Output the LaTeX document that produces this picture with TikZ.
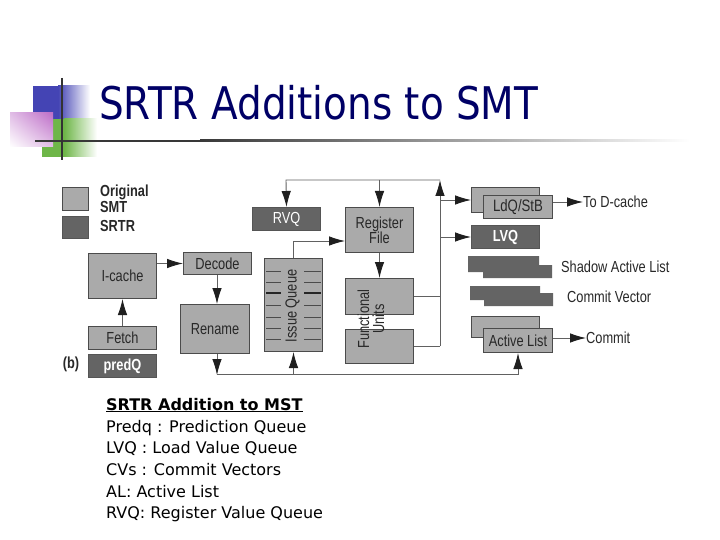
\documentclass[tikz,border=0pt]{standalone}
\usepackage{fontspec}
\setmainfont{DejaVu Sans}
\newfontfamily\titlefont[FakeStretch=0.865]{DejaVu Sans}
\newfontfamily\dfont[FakeStretch=0.8]{Liberation Sans}
\usetikzlibrary{arrows.meta,shadings}
\definecolor{lightbox}{RGB}{170,170,170}
\definecolor{darkbox}{RGB}{100,100,100}
\definecolor{edgec}{RGB}{75,75,75}
\definecolor{txtc}{RGB}{40,40,40}
\definecolor{navy}{RGB}{0,0,102}
\definecolor{blueq}{RGB}{68,68,180}
\definecolor{greenq}{RGB}{110,182,72}
\definecolor{pinkq}{RGB}{190,110,200}
\definecolor{pinkl}{RGB}{225,190,230}
\begin{document}
\begin{tikzpicture}[x=1pt,y=-1pt,
  dfs/.style={font=\dfont\fontsize{16}{16}\selectfont},
  dfsb/.style={font=\dfont\bfseries\fontsize{16}{16}\selectfont},
  dtext/.style={inner sep=0pt, text=txtc, dfs},
  lbox/.style={draw=edgec, fill=lightbox, line width=1pt, inner sep=0pt, anchor=north west,
    text=txtc, dfs},
  dbox/.style={draw=darkbox!85!black, fill=darkbox, line width=1pt, inner sep=0pt, anchor=north west,
    text=white, dfs},
  arr/.style={draw=black!62, line width=0.9pt, -{Latex[length=16pt,width=9.5pt,color=black!88]}},
  ln/.style={draw=black!62, line width=0.9pt},
  body/.style={anchor=base west, inner sep=0pt, font=\fontsize{16}{16}\selectfont}]
\useasboundingbox (0,0) rectangle (720,540);
\fill[white] (0,0) rectangle (720,540);

% ---- title decoration ----
\fill[blueq] (33,86) rectangle (58,119);
\shade[left color=blueq, right color=white] (58,86) rectangle (90,119);
\fill[greenq] (42,119) rectangle (64,157);
\shade[left color=greenq, right color=white] (64,119) rectangle (97,157);
\shade[upper left=pinkl, upper right=pinkq, lower left=white, lower right=pinkl] (10,113) rectangle (53,147);
\draw[line width=2pt, black!78] (35,141) -- (200,141);
\shade[left color=black!78, right color=white] (200,140) rectangle (690,142);
\draw[line width=2pt, black!80] (62,78) -- (62,160);
\node[anchor=base west, inner sep=0pt, text=navy, font=\titlefont\fontsize{45}{45}\selectfont] (title) at (99,120) {SRTR Additions to SMT};

% ---- legend ----
\node[lbox, minimum width=26pt, minimum height=23pt] (leg1) at (62,187) {};
\node[dbox, minimum width=26pt, minimum height=22pt] (leg2) at (62,216) {};
\node[dtext, anchor=north west, align=left, font=\dfont\bfseries\fontsize{16}{10.5}\selectfont] (legt1) at (100,185) {Original\\SMT};
\node[dtext, anchor=base west, dfsb] (legt3) at (100,232) {SRTR};
\node[dtext, dfsb] (blabel) at (71,364) {(b)};

% ---- boxes ----
\node[lbox, minimum width=68pt, minimum height=45pt] (icache) at (88,253) {I-cache};
\node[lbox, minimum width=68pt, minimum height=23pt] (fetch) at (88,326) {Fetch};
\node[dbox, minimum width=68pt, minimum height=23pt, dfsb] (predq) at (88,354) {predQ};
\node[lbox, minimum width=68pt, minimum height=22pt] (decode) at (183,252) {Decode};
\node[lbox, minimum width=69pt, minimum height=49pt] (rename) at (180,304) {Rename};
\node[dbox, minimum width=68pt, minimum height=23pt] (rvq) at (252,207) {RVQ};
\node[lbox, minimum width=58pt, minimum height=93pt] (iq) at (264,258) {};
\foreach \yy in {271,282,305,317,328,339} {
  \draw[edgec, line width=0.9pt] (266,\yy) -- (281,\yy);
  \draw[edgec, line width=0.9pt] (304,\yy) -- (321,\yy);
}
\draw[black!85, line width=1.4pt] (266,293) -- (281,293);
\draw[black!85, line width=1.4pt] (304,293) -- (321,293);
\node[dtext, rotate=90] (iqtext) at (292.5,306) {Issue Queue};
\node[lbox, minimum width=68pt, minimum height=45pt, align=center, font=\dfont\fontsize{16}{15}\selectfont] (rf) at (345,207) {Register\\File};
\node[lbox, minimum width=68pt, minimum height=36pt] (fu1) at (345,278) {};
\node[lbox, minimum width=68pt, minimum height=34pt] (fu2) at (345,329) {};
\node[dtext, rotate=90, align=center, font=\dfont\fontsize{16}{15}\selectfont] (futext) at (371,319) {Functional\\Units};

% right column
\node[lbox, minimum width=68pt, minimum height=25pt] (ldqback) at (471,187) {};
\node[lbox, minimum width=69pt, minimum height=23pt, font=\dfont\fontsize{16.5}{16}\selectfont] (ldq) at (483,195) {LdQ/StB};
\node[dbox, minimum width=68pt, minimum height=23pt, dfsb] (lvq) at (471,225) {LVQ};
\fill[darkbox] (468,256) -- (539,256) -- (539,265) -- (552,265) -- (552,278) -- (483,278) -- (483,272) -- (468,272) -- cycle;
\fill[darkbox] (470,286) -- (540,286) -- (540,293) -- (553,293) -- (553,306) -- (484,306) -- (484,300) -- (470,300) -- cycle;
\node[lbox, minimum width=68pt, minimum height=21pt] (alback) at (471,316) {};
\node[lbox, minimum width=69pt, minimum height=24pt] (al) at (483,328) {Active List};
\node[dtext, anchor=west] (dcache) at (583,202) {To D-cache};
\node[dtext, anchor=west] (sal) at (561,267) {Shadow Active List};
\node[dtext, anchor=west] (cv) at (567,297) {Commit Vector};
\node[dtext, anchor=west] (commit) at (586,338) {Commit};

% ---- connectors ----
\coordinate (bot) at (217,374);
\coordinate (tl) at (286,180);
\coordinate (tr) at (440,180);
\coordinate (vb) at (440,346);
\coordinate (rfin) at (345,241);
\draw[arr] (icache.east |- decode.west) -- (decode.west);
\draw[arr] (decode.south -| bot) -- (rename.north -| bot);
\draw[arr] (fetch.north) -- (icache.south);
\draw[arr] (rename.south -| bot) -- ([yshift=-1pt]bot);
\draw[arr] (bot) -| (al.south);
\draw[arr] (iq.south |- bot) -- (iq.south);
\draw[arr] (iq.north) |- (rfin);
\draw[arr] (rf.south) -- (fu1.north);
\draw[arr] (vb) -- (tr);
\draw[arr] (tr) -- (tl) -- (rvq.north);
\draw[arr] (rf.north |- tr) -- (rf.north);
\draw[ln] (fu1.east) -- (fu1.east -| vb);
\draw[ln] (fu2.east) -- (fu2.east -| vb);
\draw[arr] (ldqback.west -| vb) -- (ldqback.west);
\draw[arr] (lvq.west -| vb) -- (lvq.west);
\draw[arr] (ldq.east |- dcache.west) -- (dcache.west);
\draw[arr] (al.east |- commit.west) -- (commit.west);

% ---- body text ----
\node[body] (b1) at (106,410) {\bfseries\underline{SRTR Addition to MST}};
\node[body] (b2) at (106,432) {Predq : Prediction Queue};
\node[body] (b3) at (106,453) {LVQ : Load Value Queue};
\node[body] (b4) at (106,475) {CVs : Commit Vectors};
\node[body] (b5) at (106,497) {AL: Active List};
\node[body] (b6) at (106,518) {RVQ: Register Value Queue};
\end{tikzpicture}
\end{document}
